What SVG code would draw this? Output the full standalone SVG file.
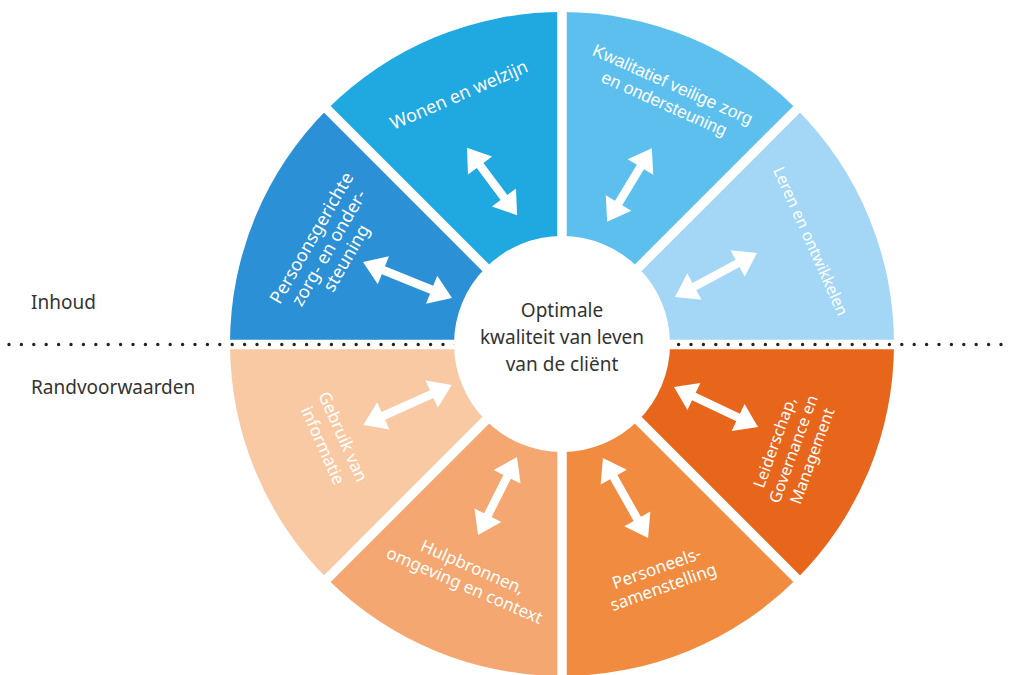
<svg xmlns="http://www.w3.org/2000/svg" width="1012" height="675" viewBox="0 0 1012 675">
<style>
.seg-t{font-family:"Noto Sans","Open Sans","Liberation Sans",sans-serif;fill:#ffffff;text-anchor:middle}
.lbl{font-family:"Noto Sans","Open Sans","Liberation Sans",sans-serif;fill:#333333;font-size:19px}
.ctr{font-family:"Noto Sans","Open Sans","Liberation Sans",sans-serif;fill:#333333;font-size:19px;text-anchor:middle}
.arr{fill:#ffffff}
.gap{stroke:#ffffff;stroke-width:9.5;fill:none}
.dots{stroke:#222222;stroke-width:3.4;stroke-linecap:round;stroke-dasharray:0 12.4;fill:none}
</style>
<rect width="1012" height="675" fill="#ffffff"/>

<g id="persoonsgerichte">
<path d="M562,344 L230,344 A332,332 0 0 1 327.24,109.24 Z" fill="#2b90d6"/>
<g transform="translate(329,248) rotate(-60)"><text class="seg-t" font-size="18" y="-14">Persoonsgerichte</text><text class="seg-t" font-size="18" y="6">zorg- en onder-</text><text class="seg-t" font-size="18" y="26">steuning</text></g>
</g>
<g id="wonen">
<path d="M562,344 L327.24,109.24 A332,332 0 0 1 562,12 Z" fill="#20a8e1"/>
<text class="seg-t" font-size="18" transform="translate(459,95) rotate(-23.5)" y="6">Wonen en welzijn</text>
</g>
<g id="kwalitatief">
<path d="M562,344 L562,12 A332,332 0 0 1 796.76,109.24 Z" fill="#5cbfee"/>
<g transform="translate(668.5,94) rotate(24)"><text font-family="Liberation Sans, Arial, sans-serif" fill="#ffffff" text-anchor="middle" font-size="17.5" y="-4.5">Kwalitatief veilige zorg</text><text font-family="Liberation Sans, Arial, sans-serif" fill="#ffffff" text-anchor="middle" font-size="17.5" y="16.5">en ondersteuning</text></g>
</g>
<g id="leren">
<path d="M562,344 L796.76,109.24 A332,332 0 0 1 894,344 Z" fill="#a4d7f5"/>
<text class="seg-t" font-size="16" transform="translate(811,241) rotate(66)" y="6">Leren en ontwikkelen</text>
</g>
<g id="leiderschap">
<path d="M562,344 L894,344 A332,332 0 0 1 796.76,578.76 Z" fill="#e8661b"/>
<g transform="translate(793,449) rotate(-70)"><text class="seg-t" font-size="16" y="-14">Leiderschap,</text><text class="seg-t" font-size="16" y="6">Governance en</text><text class="seg-t" font-size="16" y="26">Management</text></g>
</g>
<g id="personeels">
<path d="M562,344 L796.76,578.76 A332,332 0 0 1 562,676 Z" fill="#f08b3f"/>
<g transform="translate(660,577.5) rotate(-19.5)"><text class="seg-t" font-size="17" y="-4">Personeels-</text><text class="seg-t" font-size="17" y="16">samenstelling</text></g>
</g>
<g id="hulpbronnen">
<path d="M562,344 L562,676 A332,332 0 0 1 327.24,578.76 Z" fill="#f4a770"/>
<g transform="translate(468.5,576) rotate(23.5)"><text class="seg-t" font-size="17" y="-4">Hulpbronnen,</text><text class="seg-t" font-size="17" y="16">omgeving en context</text></g>
</g>
<g id="gebruik">
<path d="M562,344 L327.24,578.76 A332,332 0 0 1 230,344 Z" fill="#f9c9a4"/>
<g transform="translate(333,441) rotate(66)"><text class="seg-t" font-size="17" y="-5">Gebruik van</text><text class="seg-t" font-size="17" y="17">informatie</text></g>
</g>

<g id="gaps">
<line class="gap" x1="224" y1="344.5" x2="900" y2="344.5"/>
<line class="gap" x1="562" y1="6" x2="562" y2="682"/>
<line class="gap" x1="320" y1="102" x2="804" y2="586"/>
<line class="gap" x1="804" y1="102" x2="320" y2="586"/>
</g>

<g id="divider">
<line class="dots" x1="9" y1="344.5" x2="1010" y2="344.5"/>
<text class="lbl" x="31" y="309">Inhoud</text>
<text class="lbl" x="31" y="394">Randvoorwaarden</text>
</g>

<g id="center">
<circle cx="562" cy="344" r="108" fill="#ffffff"/>
<text class="ctr" x="562" y="317">Optimale</text>
<text class="ctr" x="562" y="344">kwaliteit van leven</text>
<text class="ctr" x="562" y="371">van de cliënt</text>
</g>

<g id="connectors">
<path class="arr" transform="translate(407.5,280) rotate(22)" d="M-48 0 L-26 -15 L-26 -4.2 L26 -4.2 L26 -15 L48 0 L26 15 L26 4.2 L-26 4.2 L-26 15 Z"/>
<path class="arr" transform="translate(492,181.5) rotate(53.3)" d="M-42 0 L-20 -15 L-20 -4.2 L20 -4.2 L20 -15 L42 0 L20 15 L20 4.2 L-20 4.2 L-20 15 Z"/>
<path class="arr" transform="translate(629.5,185) rotate(121.3)" d="M-43 0 L-21 -15 L-21 -4.2 L21 -4.2 L21 -15 L43 0 L21 15 L21 4.2 L-21 4.2 L-21 15 Z"/>
<path class="arr" transform="translate(716,275) rotate(151.8)" d="M-46.5 0 L-24.5 -15 L-24.5 -4.2 L24.5 -4.2 L24.5 -15 L46.5 0 L24.5 15 L24.5 4.2 L-24.5 4.2 L-24.5 15 Z"/>
<path class="arr" transform="translate(407.5,405) rotate(155.8)" d="M-48.5 0 L-26.5 -15 L-26.5 -4.2 L26.5 -4.2 L26.5 -15 L48.5 0 L26.5 15 L26.5 4.2 L-26.5 4.2 L-26.5 15 Z"/>
<path class="arr" transform="translate(497.5,496) rotate(116.6)" d="M-43.5 0 L-21.5 -15 L-21.5 -4.2 L21.5 -4.2 L21.5 -15 L43.5 0 L21.5 15 L21.5 4.2 L-21.5 4.2 L-21.5 15 Z"/>
<path class="arr" transform="translate(625.5,498) rotate(60.6)" d="M-46 0 L-24 -15 L-24 -4.2 L24 -4.2 L24 -15 L46 0 L24 15 L24 4.2 L-24 4.2 L-24 15 Z"/>
<path class="arr" transform="translate(716,407) rotate(25.5)" d="M-46.5 0 L-24.5 -15 L-24.5 -4.2 L24.5 -4.2 L24.5 -15 L46.5 0 L24.5 15 L24.5 4.2 L-24.5 4.2 L-24.5 15 Z"/>
</g>
</svg>
